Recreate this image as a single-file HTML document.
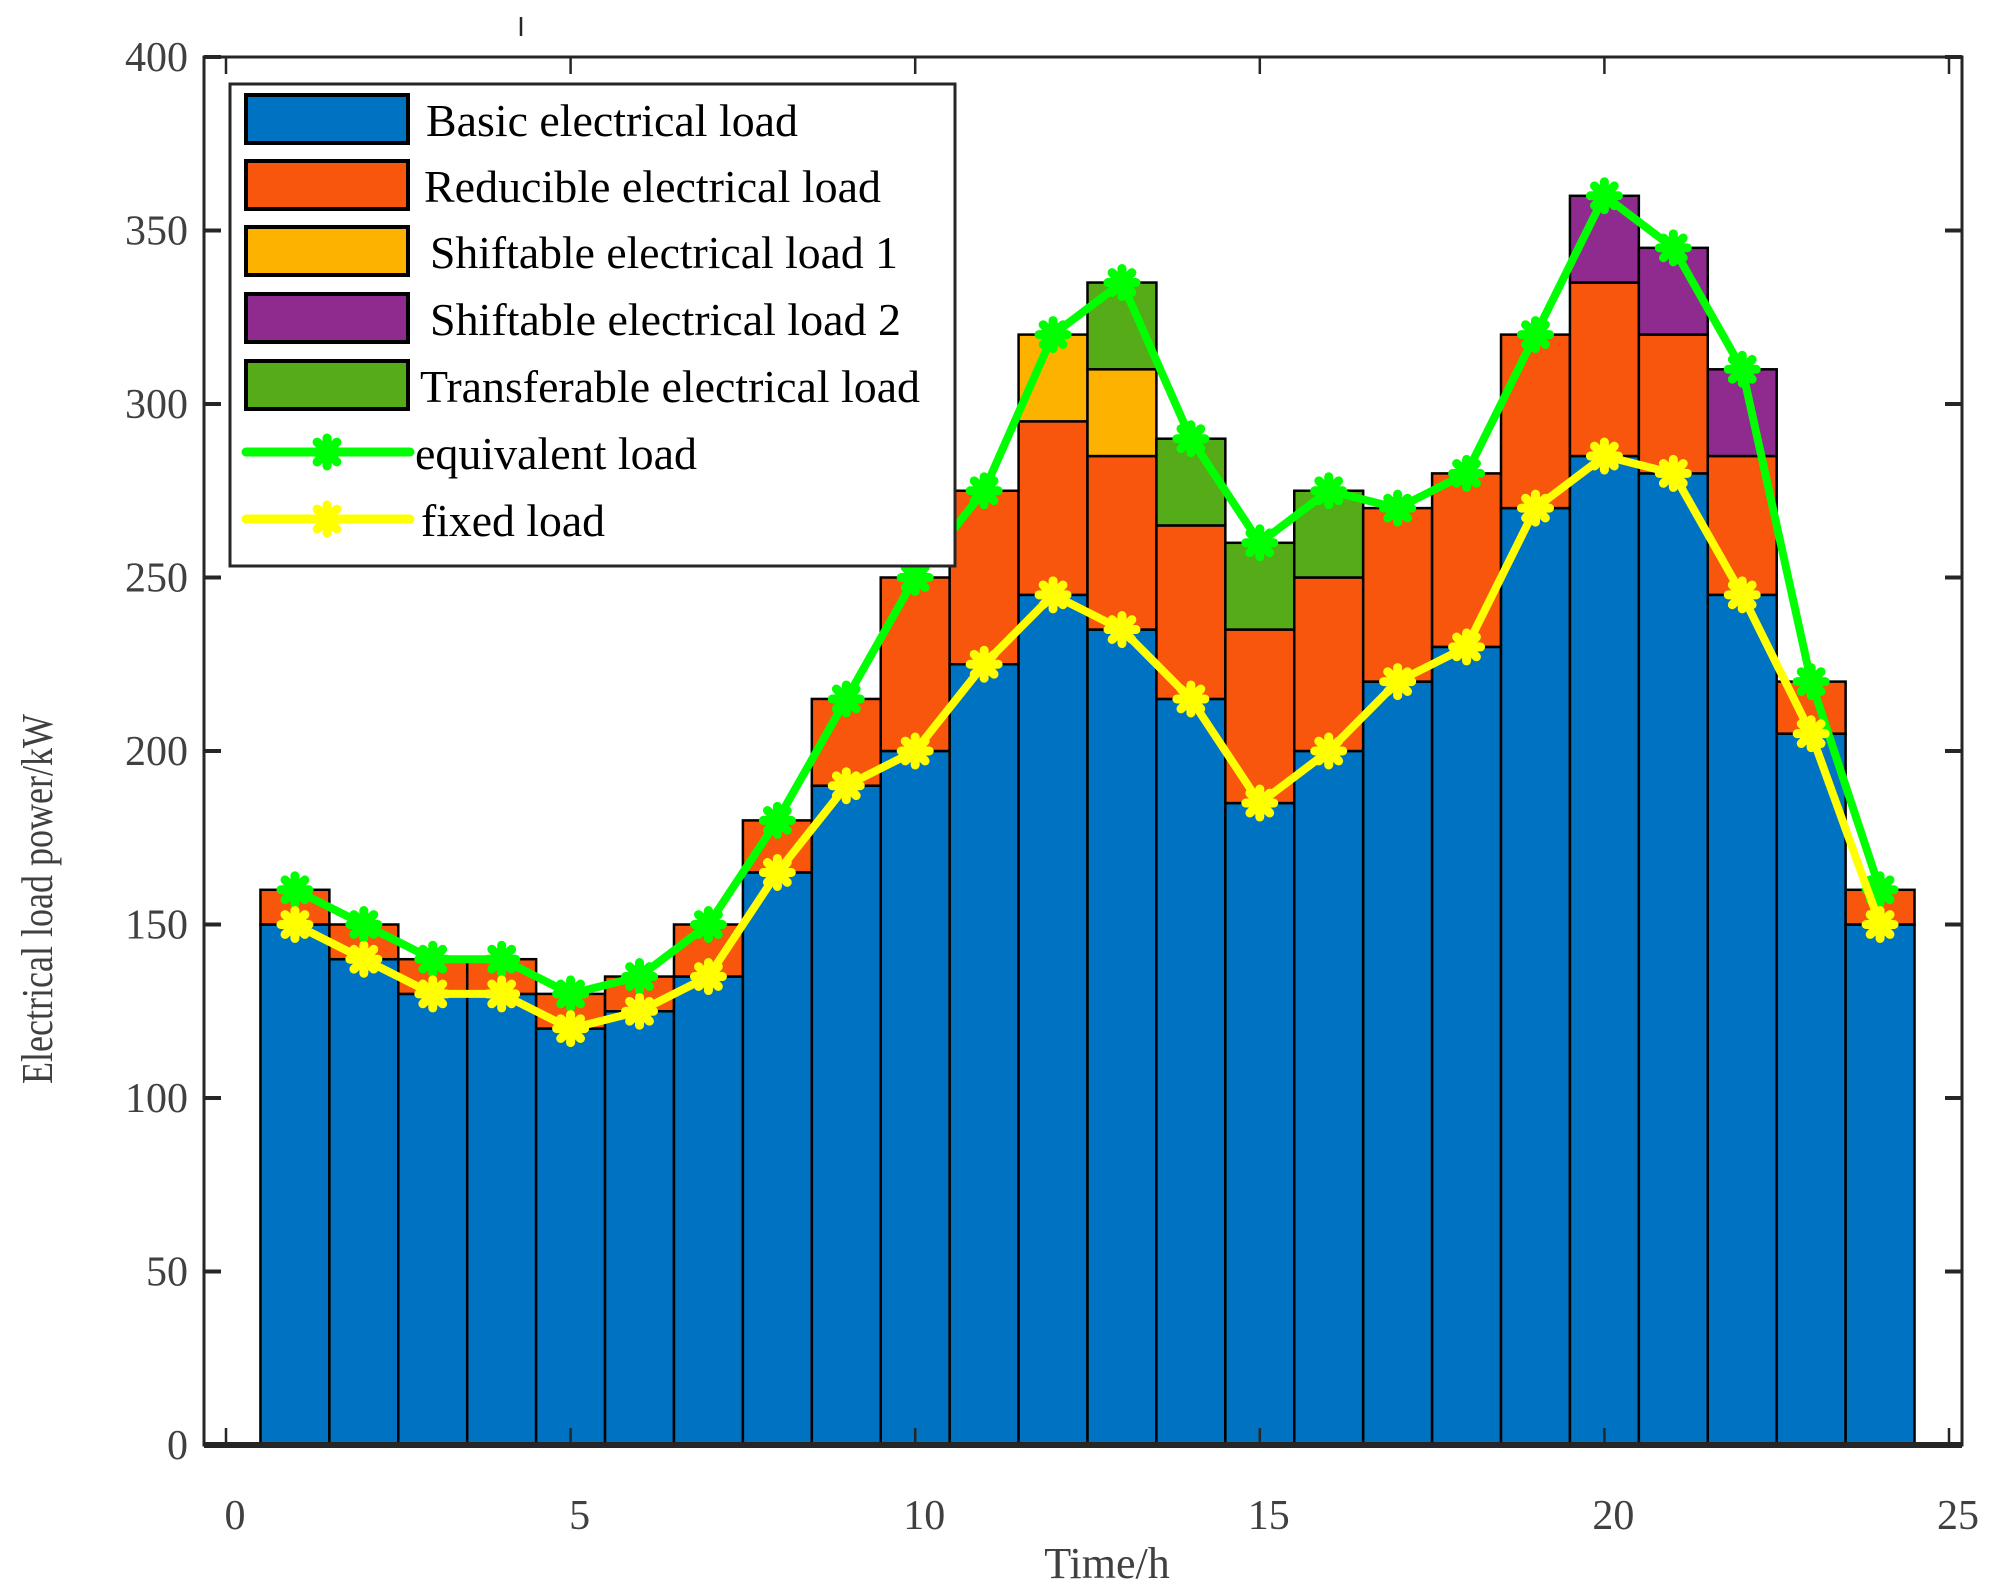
<!DOCTYPE html>
<html><head><meta charset="utf-8"><style>
html,body{margin:0;padding:0;background:#fff;}
svg{display:block;font-family:"Liberation Serif",serif;}
</style></head><body>
<svg id="chart" width="2000" height="1593" viewBox="0 0 2000 1593" xmlns="http://www.w3.org/2000/svg"></svg>
<script>
const hours=[1,2,3,4,5,6,7,8,9,10,11,12,13,14,15,16,17,18,19,20,21,22,23,24];
const basicLoad=[150,140,130,130,120,125,135,165,190,200,225,245,235,215,185,200,220,230,270,285,280,245,205,150];
const reducibleLoad=[10,10,10,10,10,10,15,15,25,50,50,50,50,50,50,50,50,50,50,50,40,40,15,10];
const shiftable1=[0,0,0,0,0,0,0,0,0,0,0,25,25,0,0,0,0,0,0,0,0,0,0,0];
const shiftable2=[0,0,0,0,0,0,0,0,0,0,0,0,0,0,0,0,0,0,0,25,25,25,0,0];
const transferable=[0,0,0,0,0,0,0,0,0,0,0,0,25,25,25,25,0,0,0,0,0,0,0,0];
const equivalentLoad=[160,150,140,140,130,135,150,180,215,250,275,320,335,290,260,275,270,280,320,360,345,310,220,160];
const fixedLoad=[150,140,130,130,120,125,135,165,190,200,225,245,235,215,185,200,220,230,270,285,280,245,205,150];
const xTicks=[0,5,10,15,20,25];
const yTicks=[0,50,100,150,200,250,300,350,400];

const L=204,R=1962,T=57,B=1445;
const X0=226,X25=1949;
const xs=v=>X0+(X25-X0)*v/25;
const ys=v=>B-(B-T)*v/400;
const NS="http://www.w3.org/2000/svg";
const svg=document.getElementById('chart');
function mk(tag,attrs,parent){const e=document.createElementNS(NS,tag);for(const k in attrs)e.setAttribute(k,attrs[k]);(parent||svg).appendChild(e);return e;}

const series=[[basicLoad,'#0072c2','bar-basic'],[reducibleLoad,'#f8560c','bar-reducible'],[shiftable1,'#feb200','bar-shiftable-1'],[shiftable2,'#8f2a8f','bar-shiftable-2'],[transferable,'#56ab19','bar-transferable']];
const bw=xs(1)-xs(0);
hours.forEach((h,i)=>{
  let base=0;
  series.forEach(s=>{
    const v=s[0][i];
    if(v>0){
      const r=mk('rect',{x:xs(h)-bw/2,y:ys(base+v),width:bw,height:ys(base)-ys(base+v),fill:s[1],stroke:'#000','stroke-width':2.5});
      
      
    }
    base+=v;
  });
});

function star(cx,cy,col,g){
  for(let a=0;a<4;a++){
    const ang=a*Math.PI/4;
    mk('line',{x1:cx-14*Math.cos(ang),y1:cy-14*Math.sin(ang),x2:cx+14*Math.cos(ang),y2:cy+14*Math.sin(ang),stroke:col,'stroke-width':9,'stroke-linecap':'round'},g);
  }
}
function line(data,col,name){
  const g=mk('g',{});
  
  
  mk('polyline',{points:hours.map((h,i)=>xs(h)+','+ys(data[i])).join(' '),fill:'none',stroke:col,'stroke-width':8,'stroke-linejoin':'round'},g);
  hours.forEach((h,i)=>star(xs(h),ys(data[i]),col,g));
}
line(equivalentLoad,'#00ff00','equivalent-load-line');
line(fixedLoad,'#ffff00','fixed-load-line');

const ax=mk('rect',{x:L,y:T,width:R-L,height:B-T,fill:'none',stroke:'#262626','stroke-width':3});

xTicks.forEach(t=>{
  mk('line',{x1:xs(t),y1:B,x2:xs(t),y2:B-17,stroke:'#262626','stroke-width':2.5});
  mk('line',{x1:xs(t),y1:T,x2:xs(t),y2:T+17,stroke:'#262626','stroke-width':2.5});
  const tx=mk('text',{x:xs(t)+9,y:1529,'text-anchor':'middle','font-size':42,fill:'#404040'});
  tx.textContent=t;
  
});
yTicks.forEach(t=>{
  mk('line',{x1:L,y1:ys(t),x2:L+17,y2:ys(t),stroke:'#262626','stroke-width':4});
  mk('line',{x1:R,y1:ys(t),x2:R-17,y2:ys(t),stroke:'#262626','stroke-width':4});
  const tx=mk('text',{x:188,y:ys(t)+14,'text-anchor':'end','font-size':42,fill:'#404040'});
  tx.textContent=t;
  
});
mk('line',{x1:L,y1:B,x2:R,y2:B,stroke:'#262626','stroke-width':6});
mk('line',{x1:521,y1:17,x2:521,y2:36,stroke:'#262626','stroke-width':2.5});

const xl=mk('text',{x:1107,y:1578,'text-anchor':'middle','font-size':44,fill:'#404040'});
xl.textContent='Time/h';
const yl=mk('text',{x:0,y:0,'text-anchor':'middle','font-size':44,fill:'#404040',textLength:370,lengthAdjust:'spacingAndGlyphs',transform:'translate(52,899) rotate(-90)'});
yl.textContent='Electrical load power/kW';

const lg=mk('g',{});

mk('rect',{x:230,y:84,width:725,height:482,fill:'#fff',stroke:'#262626','stroke-width':3},lg);
const patches=[['#0072c2','Basic electrical load',119,426,372],['#f8560c','Reducible electrical load',185,424,457],['#feb200','Shiftable electrical load 1',251,430,468],['#8f2a8f','Shiftable electrical load 2',318,430,471],['#56ab19','Transferable electrical load',385,420,500]];
patches.forEach(p=>{
  const e=mk('g',{},lg);
  
  mk('rect',{x:246,y:p[2]-24,width:162,height:48,fill:p[0],stroke:'#000','stroke-width':4},e);
  const t=mk('text',{x:p[3],y:p[2]+17,'font-size':46,fill:'#000',textLength:p[4],lengthAdjust:'spacingAndGlyphs'},e);t.textContent=p[1];
});
[['#00ff00','equivalent load',452,415,282],['#ffff00','fixed load',519,421,184]].forEach(p=>{
  const e=mk('g',{},lg);
  
  mk('line',{x1:246,y1:p[2],x2:410,y2:p[2],stroke:p[0],'stroke-width':9,'stroke-linecap':'round'},e);
  star(327,p[2],p[0],e);
  const t=mk('text',{x:p[3],y:p[2]+17,'font-size':46,fill:'#000',textLength:p[4],lengthAdjust:'spacingAndGlyphs'},e);t.textContent=p[1];
});
</script>
</body></html>
